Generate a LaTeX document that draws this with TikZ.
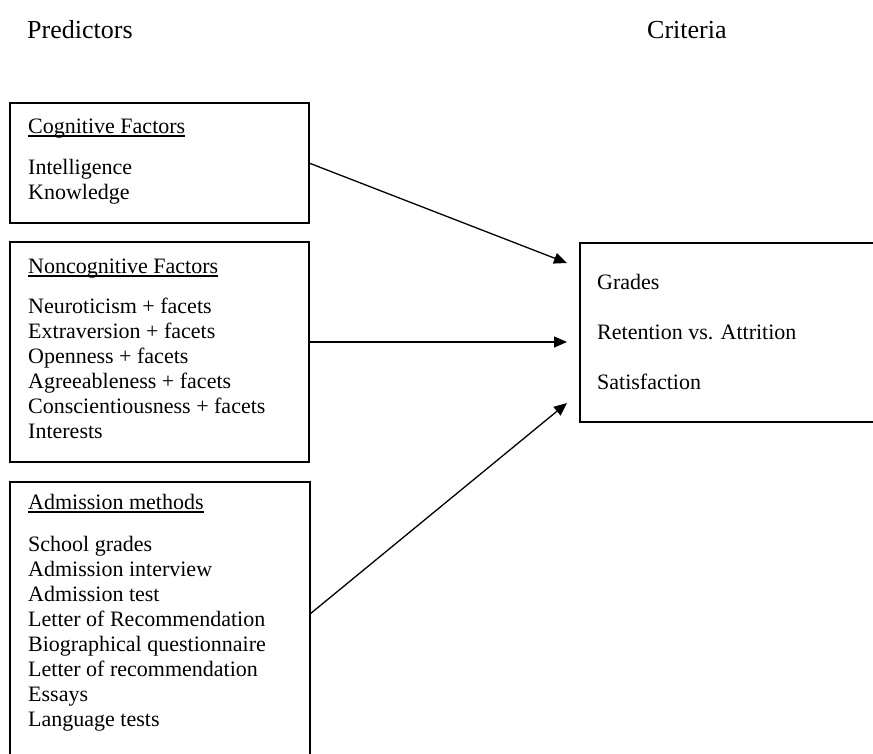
\documentclass[tikz,border=0pt]{standalone}
\usepackage{fontspec}
\setmainfont{Liberation Serif}
\usepackage{tikz}
\usetikzlibrary{arrows.meta}
\tikzstyle{Box}=[draw,rectangle,line width=1.6pt,outer sep=0pt,inner sep=0pt,
anchor=north west]
\tikzstyle{Item}=[anchor=base west,inner sep=0pt,
font=\fontsize{22}{25}\selectfont]
\tikzstyle{Head}=[Item,font=\fontsize{26}{30}\selectfont]
\tikzstyle{Arrow}=[draw,line width=1.3pt,-{Triangle[length=13pt,width=11pt]}]
\tikzstyle{Uline}=[draw,line width=1.2pt]

\begin{document}
\begin{tikzpicture}[x=1pt,y=-1pt]
        \useasboundingbox(0,0)rectangle(873,753);
        \clip(0,0)rectangle(873,753);
        \node[Head](pred)at(27,38){Predictors};
        \node[Head](crit)at(647,38){Criteria};
        % boxes
        \node[Box,minimum width=299,minimum height=120](cog)at(10,103){};
        \node[Box,minimum width=299,minimum height=220](noncog)at(10,242){};
        \node[Box,minimum width=300,minimum height=320](adm)at(10,482){};
        \node[Box,minimum width=320,minimum height=179](out)at(580,243){};
        % cognitive
        \node[Item](c0)at(28,133){Cognitive Factors};
        \node[Item](c1)at(28,174){Intelligence};
        \node[Item](c2)at(28,199){Knowledge};
        % noncognitive
        \node[Item](n0)at(28,273){Noncognitive Factors};
        \node[Item](n1)at(28,313){Neuroticism + facets};
        \node[Item](n2)at(28,338){Extraversion + facets};
        \node[Item](n3)at(28,363){Openness + facets};
        \node[Item](n4)at(28,388){Agreeableness + facets};
        \node[Item](n5)at(28,413){Conscientiousness + facets};
        \node[Item](n6)at(28,438){Interests};
        % admission
        \node[Item](a0)at(28,509){Admission methods};
        \node[Item](a1)at(28,551){School grades};
        \node[Item](a2)at(28,576){Admission interview};
        \node[Item](a3)at(28,601){Admission test};
        \node[Item](a4)at(28,626){Letter of Recommendation};
        \node[Item](a5)at(28,651){Biographical questionnaire};
        \node[Item](a6)at(28,676){Letter of recommendation};
        \node[Item](a7)at(28,701){Essays};
        \node[Item](a8)at(28,726){Language tests};
        % criteria
        \node[Item](o1)at(597,289){Grades};
        \node[Item](o2)at(597,339){Retention vs. Attrition};
        \node[Item](o3)at(597,389){Satisfaction};
        \draw[Uline]([yshift=-3pt]c0.base west)--([yshift=-3pt]c0.base east);
        \draw[Uline]([yshift=-3pt]n0.base west)--([yshift=-3pt]n0.base east);
        \draw[Uline]([yshift=-3pt]a0.base west)--([yshift=-3pt]a0.base east);
        % arrows
        \coordinate(t1)at(567,263);
        \coordinate(t2)at(567,342);
        \coordinate(t3)at(567,403);
        \draw[Arrow](cog.east)--(t1);
        \draw[Arrow]([yshift=10pt]noncog.east)--(t2);
        \draw[Arrow]([yshift=-132pt]adm.north east)--(t3);
    \end{tikzpicture}
\end{document}
